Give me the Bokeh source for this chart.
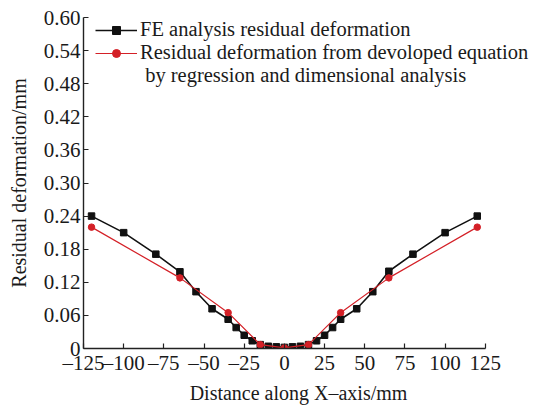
from bokeh.plotting import figure
from bokeh.models import Range1d, FixedTicker, Legend, LegendItem
from bokeh.embed import file_html
from bokeh.resources import INLINE

# ---- data ----
fe_x = [-120, -100, -80, -65, -55, -45, -35, -30, -25, -20, -15, -10, -5, 0,
        5, 10, 15, 20, 25, 30, 35, 45, 55, 65, 80, 100, 120]
fe_y = [0.240, 0.210, 0.171, 0.139, 0.103, 0.072, 0.053, 0.038, 0.024, 0.014,
        0.007, 0.004, 0.003, 0.002, 0.003, 0.004, 0.007, 0.014, 0.024, 0.038,
        0.053, 0.072, 0.103, 0.140, 0.171, 0.210, 0.240]

eq_x = [-120, -65, -35, -15, 0, 15, 35, 65, 120]
eq_y = [0.220, 0.128, 0.065, 0.007, 0.001, 0.007, 0.065, 0.128, 0.220]

x_ticks = [-125, -100, -75, -50, -25, 0, 25, 50, 75, 100, 125]
x_tick_labels = ["–125", "–100", "–75", "–50", "–25", "0", "25", "50", "75", "100", "125"]
y_ticks = [0, 0.06, 0.12, 0.18, 0.24, 0.30, 0.36, 0.42, 0.48, 0.54, 0.60]
y_tick_labels = ["0", "0.06", "0.12", "0.18", "0.24", "0.30", "0.36", "0.42", "0.48", "0.54", "0.60"]

label_fe = "FE analysis residual deformation"
label_eq_1 = "Residual deformation from devoloped equation"
label_eq_2 = " by regression and dimensional analysis"
x_title = "Distance along X–axis/mm"
y_title = "Residual deformation/mm"

FONT = "Liberation Serif"
TXT = "#1a1a1a"

# x range extends past 125 (axis bounded at 125) so the legend can overhang as in the reference
p = figure(width=533, height=406, output_backend="svg", toolbar_location=None,
           x_range=Range1d(-125, 155), y_range=Range1d(0, 0.6),
           min_border_left=83, min_border_right=0, min_border_top=17, min_border_bottom=57)
p.outline_line_color = None
p.xgrid.visible = False
p.ygrid.visible = False
p.background_fill_color = "white"
p.border_fill_color = "white"

for ax in (p.xaxis[0], p.yaxis[0]):
    ax.major_tick_in = 5
    ax.major_tick_out = 0
    ax.minor_tick_in = 0
    ax.minor_tick_out = 0
    ax.axis_line_color = "#222222"
    ax.axis_line_width = 1.4
    ax.major_tick_line_color = "#222222"
    ax.major_tick_line_width = 1.2
    ax.major_label_text_font = FONT
    ax.major_label_text_font_size = "21px"
    ax.major_label_text_color = TXT
    ax.axis_label_text_font = FONT
    ax.axis_label_text_font_size = "20px"
    ax.axis_label_text_font_style = "normal"
    ax.axis_label_text_color = TXT

p.xaxis[0].ticker = FixedTicker(ticks=x_ticks)
p.xaxis[0].major_label_overrides = dict(zip(x_ticks, x_tick_labels))
p.xaxis[0].bounds = (-125, 125)
# trailing no-break spaces nudge the centred title left, as in the reference
p.xaxis[0].axis_label = x_title + "\u00a0" * 4
p.xaxis[0].major_label_standoff = 2
p.xaxis[0].axis_label_standoff = 4

p.yaxis[0].ticker = FixedTicker(ticks=y_ticks)
p.yaxis[0].major_label_overrides = dict(zip(y_ticks, y_tick_labels))
p.yaxis[0].axis_label = y_title
p.yaxis[0].major_label_standoff = 3
p.yaxis[0].axis_label_standoff = 11

fe_line = p.line(fe_x, fe_y, line_color="#111111", line_width=1.6)
fe_pts = p.scatter(fe_x, fe_y, marker="square", size=6.5, fill_color="#111111", line_color="#111111")
eq_line = p.line(eq_x, eq_y, line_color="#d42027", line_width=1.2)
eq_pts = p.scatter(eq_x, eq_y, marker="circle", size=6.5, fill_color="#d42027", line_color="#d42027")
blank = p.line(x=[], y=[], line_alpha=0)

legend = Legend(items=[LegendItem(label=label_fe, renderers=[fe_line, fe_pts]),
                       LegendItem(label=label_eq_1, renderers=[eq_line, eq_pts]),
                       LegendItem(label=label_eq_2, renderers=[blank])],
                location=(12, 261))
legend.border_line_color = None
legend.background_fill_alpha = 0
legend.padding = 0
legend.margin = 0
legend.spacing = -3
legend.glyph_width = 42
legend.glyph_height = 20
legend.label_standoff = 3
legend.label_height = 20
legend.label_text_font = FONT
legend.label_text_font_size = "20.5px"
legend.label_text_color = TXT
p.add_layout(legend)

open("out.html", "w").write(file_html(p, INLINE))
